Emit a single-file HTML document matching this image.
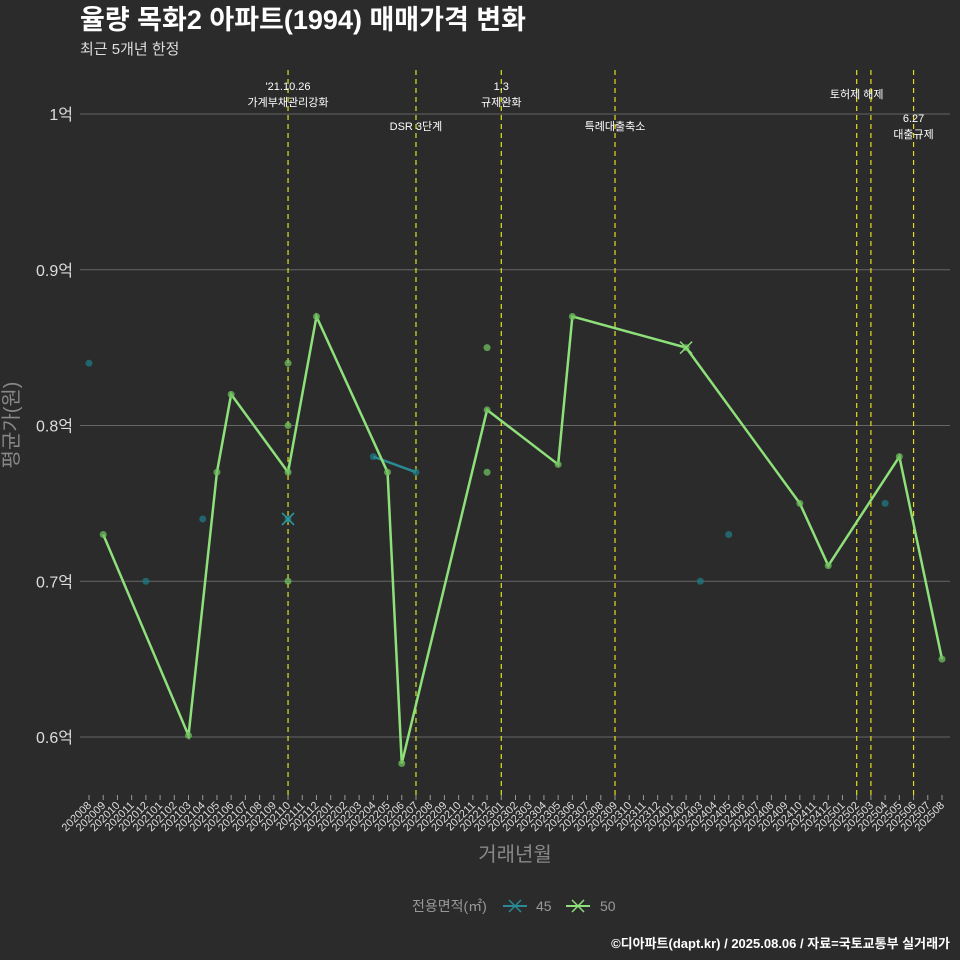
<!DOCTYPE html>
<html><head><meta charset="utf-8">
<style>
body{margin:0;background:#2b2b2b;}
svg{display:block;font-family:"Liberation Sans","Noto Sans CJK KR",sans-serif;}
</style></head>
<body>
<svg id="chart" width="960" height="960" viewBox="0 0 960 960">
<rect width="960" height="960" fill="#2b2b2b"/>
<text x="80" y="29" fill="#fff" font-size="27" font-weight="bold">율량 목화2 아파트(1994) 매매가격 변화</text>
<text x="80" y="54" fill="#ddd" font-size="15">최근 5개년 한정</text>
<g id="grid"></g><g id="events"></g><g id="series"></g><g id="xaxis"></g>
<text x="18" y="425" fill="#888" font-size="20" transform="rotate(-90 18 425)" text-anchor="middle">평균가(원)</text>
<text x="515" y="861" fill="#888" font-size="20" text-anchor="middle">거래년월</text>
<g>
<text x="412" y="911" fill="#999" font-size="14">전용면적(㎡)</text>
<g><line x1="503" y1="906" x2="527" y2="906" stroke="#2a8a94" stroke-width="2"/><path d="M509 900l12 12M521 900l-12 12" stroke="#2a8a94" stroke-width="1.5"/><text x="536" y="911" fill="#999" font-size="14">45</text></g>
<g><line x1="566" y1="906" x2="590" y2="906" stroke="#8ee07a" stroke-width="2"/><path d="M572 900l12 12M584 900l-12 12" stroke="#8ee07a" stroke-width="1.5"/><text x="600" y="911" fill="#999" font-size="14">50</text></g>
</g>
<text x="950" y="948" fill="#fff" font-size="13" font-weight="bold" text-anchor="end">©디아파트(dapt.kr) / 2025.08.06 / 자료=국토교통부 실거래가</text>
</svg>
<script>
const months=[];for(let y=2020,m=8;!(y===2025&&m===9);){months.push(''+y+(m<10?'0':'')+m);m++;if(m>12){m=1;y++;}}
const yTicks=[0.6,0.7,0.8,0.9,1.0];
const yTickLabels=['0.6억','0.7억','0.8억','0.9억','1억'];
const line50Months=['202009','202103','202105','202106','202110','202112','202205','202206','202212','202305','202306','202402','202410','202412','202505','202508'];
const line50Values=[0.73,0.601,0.77,0.82,0.77,0.87,0.77,0.583,0.81,0.775,0.87,0.85,0.75,0.71,0.78,0.65];
const pts50Months=['202110','202110','202110','202212','202212'];
const pts50Values=[0.84,0.80,0.70,0.85,0.77];
const line45Months=['202204','202207'];
const line45Values=[0.78,0.77];
const pts45Months=['202008','202012','202104','202110','202403','202405','202504'];
const pts45Values=[0.84,0.70,0.74,0.74,0.70,0.73,0.75];
const cross45Months=['202110'];const cross45Values=[0.74];
const cross50Months=['202402'];const cross50Values=[0.85];
const eventMonths=['202110','202207','202301','202309','202502','202503','202506'];
const eventLabels=[["'21.10.26","가계부채관리강화"],["DSR 3단계"],["1.3","규제완화"],["특례대출축소"],["토허제 해제"],[],["6.27","대출규제"]];
const eventLabelY=[90,130,90,130,98,0,122];
const eventLabelDX=[0,0,0,0,0,0,0];
const NS='http://www.w3.org/2000/svg';
const X=m=>89+months.indexOf(m)*(942-89)/60;
const Y=v=>114+(1.0-v)*1557.5;
function mk(t,a,p){const e=document.createElementNS(NS,t);for(const k in a)e.setAttribute(k,a[k]);p.appendChild(e);return e;}
const grid=document.getElementById('grid');
yTicks.forEach((v,i)=>{
 const l=mk('line',{x1:80,x2:950,y1:Y(v),y2:Y(v),stroke:'#666','stroke-width':1},grid);
 
 
 const t=mk('text',{x:73,y:Y(v)+6,fill:'#ddd','font-size':16,'text-anchor':'end'},grid);t.textContent=yTickLabels[i];
 
 
});
const ev=document.getElementById('events');
eventMonths.forEach((m,i)=>{
 const l=mk('line',{x1:X(m),x2:X(m),y1:70,y2:795,stroke:'#e0e020','stroke-width':1.2,'stroke-dasharray':'5,4'},ev);
 
 
 eventLabels[i].forEach((s,j)=>{const t=mk('text',{x:X(m)+eventLabelDX[i],y:eventLabelY[i]+j*16,fill:'#fff','font-size':11,'text-anchor':'middle'},ev);t.textContent=s;
 
 });
});
const se=document.getElementById('series');
function line(ms,vs,c,name){const p=mk('polyline',{points:ms.map((m,i)=>X(m)+','+Y(vs[i])).join(' '),fill:'none',stroke:c,'stroke-width':2.5},se);
 
 }
function pts(ms,vs,c,name){ms.forEach((m,i)=>{const e=mk('circle',{cx:X(m),cy:Y(vs[i]),r:3.5,fill:c,opacity:0.75},se);
 
 });}
function cross(ms,vs,c,name){ms.forEach((m,i)=>{const x=X(m),y=Y(vs[i]);const e=mk('path',{d:`M${x-6} ${y-6}l12 12M${x+6} ${y-6}l-12 12`,stroke:c,'stroke-width':1.5},se);
 
 });}
pts(pts45Months,pts45Values,'#1f7a85','point-45');
pts(line45Months,line45Values,'#1f7a85','point-45');
line(line45Months,line45Values,'#2a8a94','line-45');
cross(cross45Months,cross45Values,'#2a9aa4','cross-45');
pts(pts50Months,pts50Values,'#6fbf5f','point-50');
line(line50Months,line50Values,'#8ee07a','line-50');
pts(line50Months,line50Values,'#6fbf5f','point-50');
cross(cross50Months,cross50Values,'#8ee07a','cross-50');
const xa=document.getElementById('xaxis');
months.forEach(m=>{const x=X(m);
 mk('line',{x1:x,x2:x,y1:795,y2:800,stroke:'#999'},xa);
 const t=mk('text',{x:x+3,y:806,fill:'#ddd','font-size':11,'text-anchor':'end',transform:`rotate(-45 ${x+3} 806)`},xa);t.textContent=m;
 
 
});
</script>
</body></html>
